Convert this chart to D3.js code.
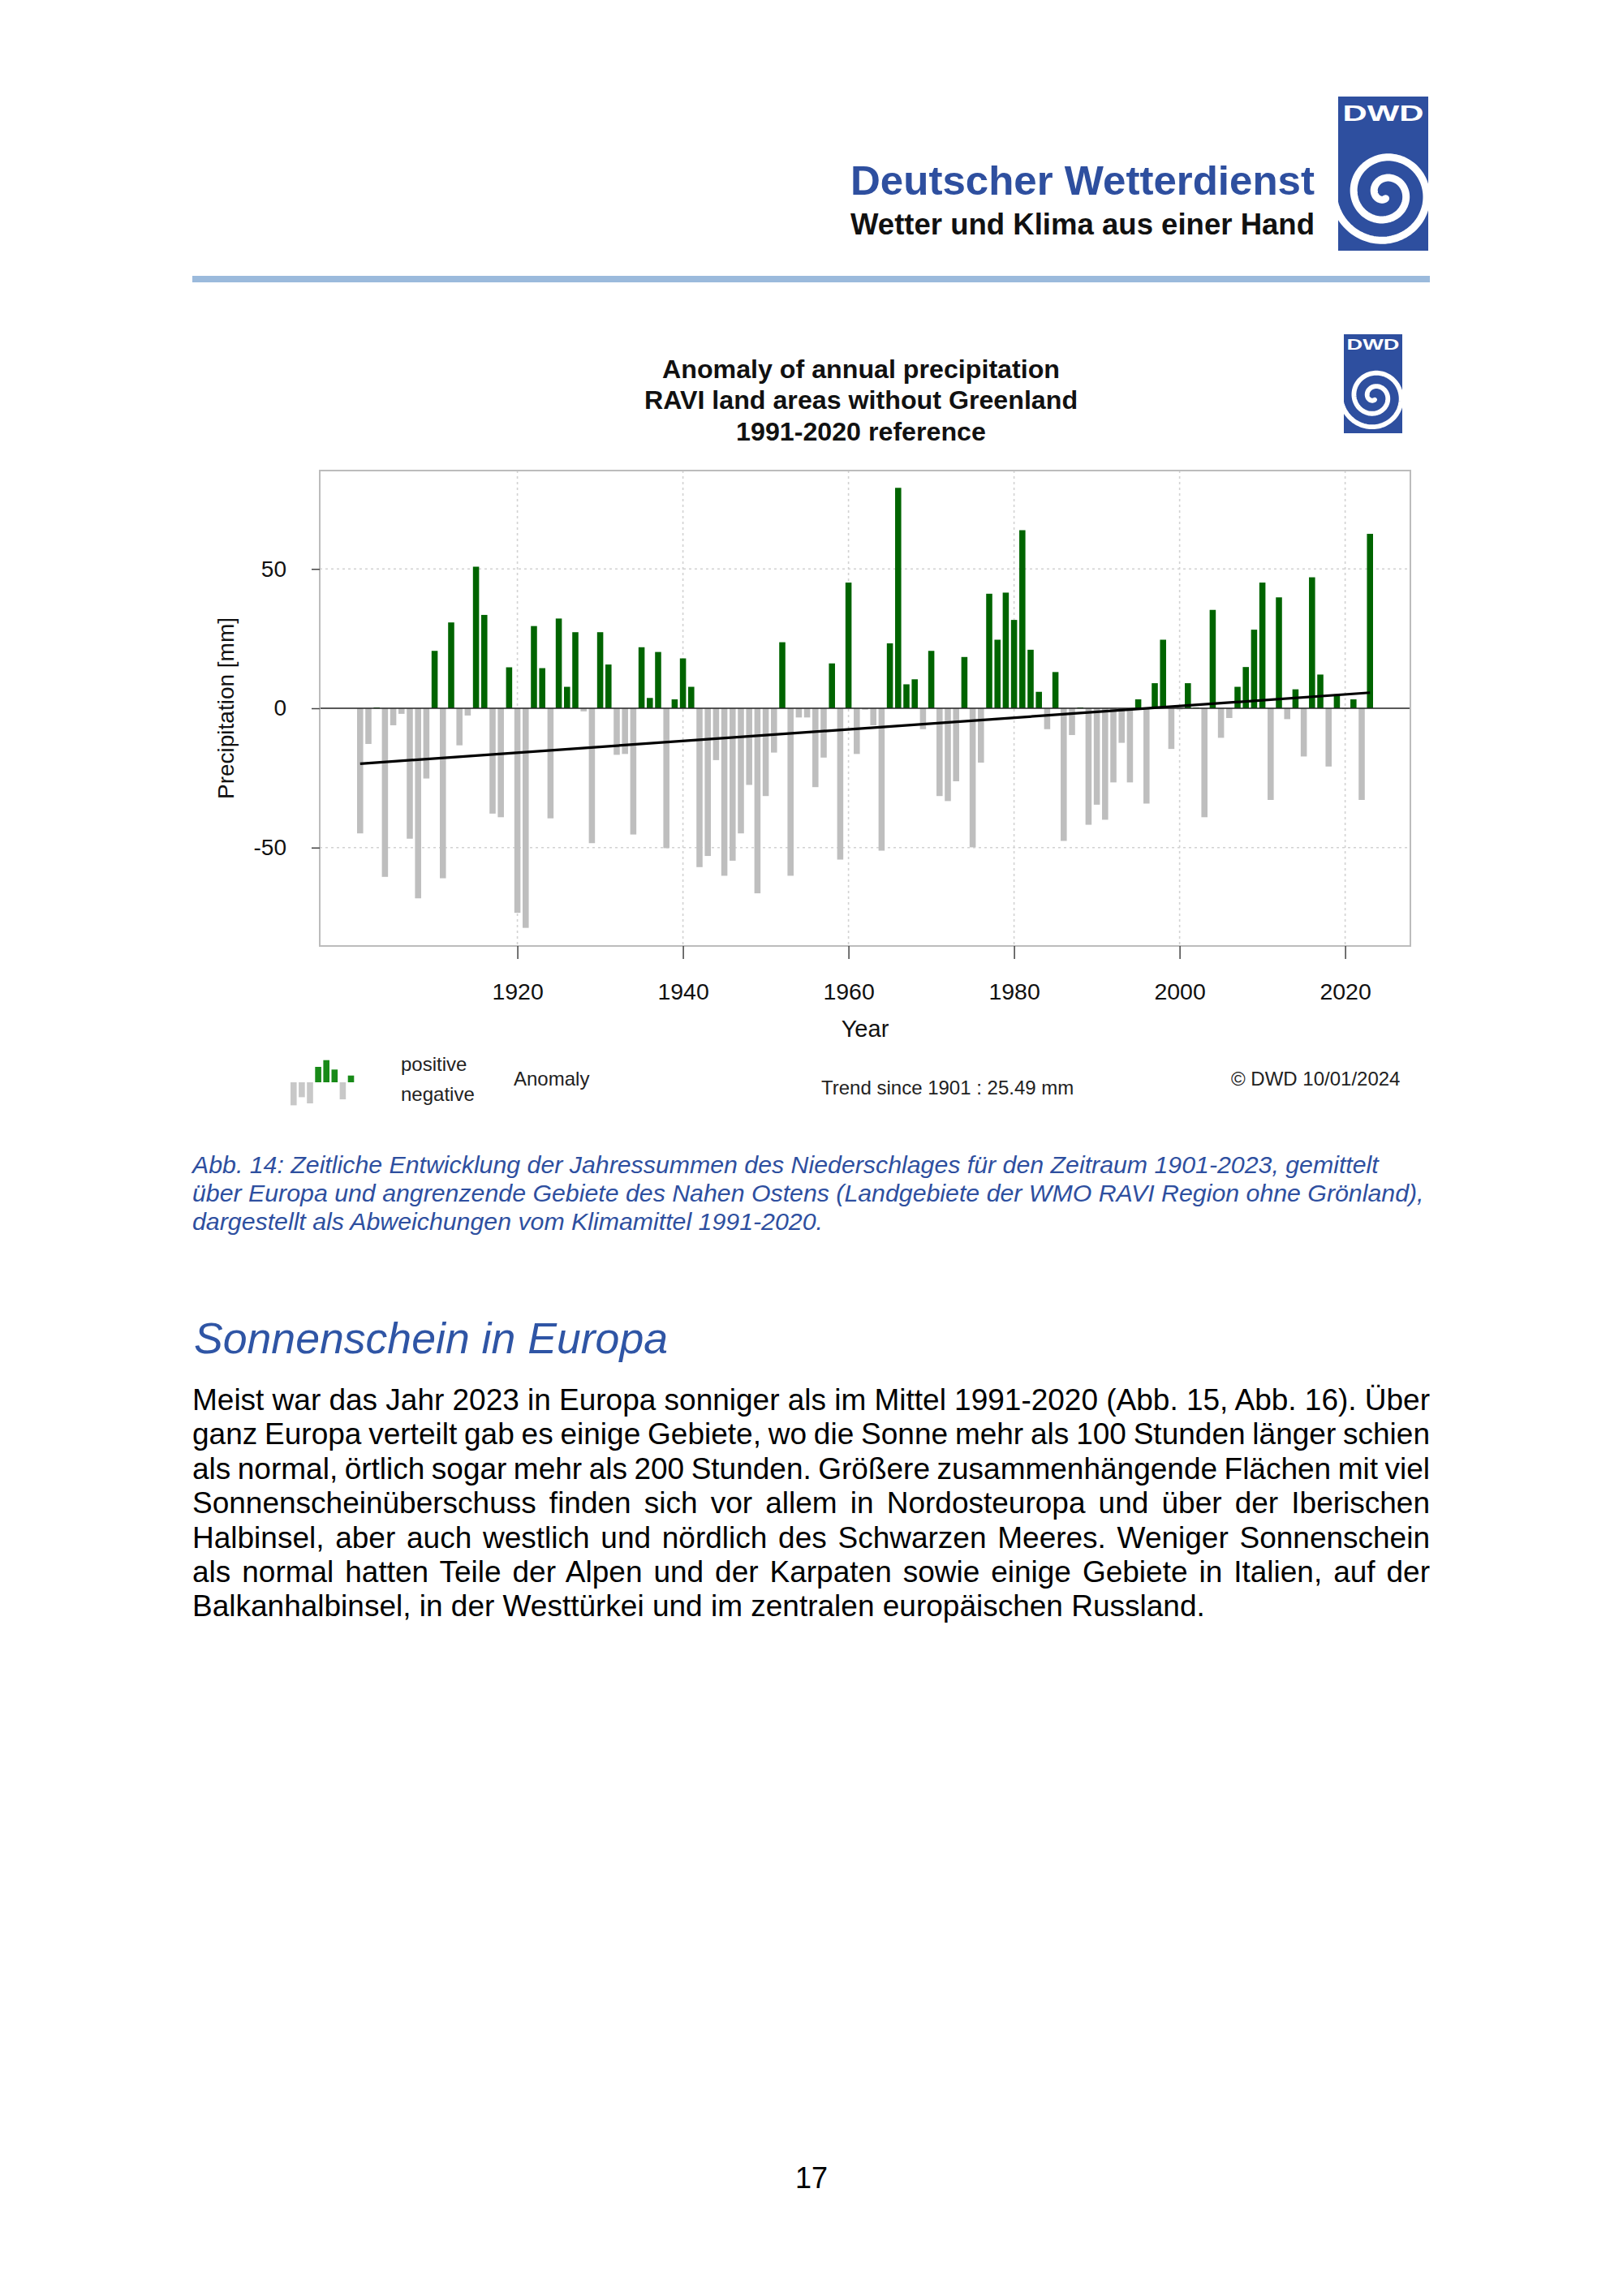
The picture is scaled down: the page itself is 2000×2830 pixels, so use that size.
<!DOCTYPE html>
<html><head><meta charset="utf-8">
<script src="https://cdn.jsdelivr.net/npm/d3@7"></script>
<style>body{margin:0;background:#fff}svg{display:block}</style>
</head><body>
<script>
// ---------------- DATA ----------------
const firstYear = 1901;
const anomalies = [
 -44.9,-12.8,0.3,-60.5,-6.1,-2.0,-46.8,-68.2,-25.2,20.6,      // 1901-1910
 -61.0,30.8,-13.3,-2.6,50.8,33.5,-37.8,-39.1,14.7,-73.4,      // 1911-1920
 -78.8,29.5,14.4,-39.5,32.2,7.7,27.3,-1.1,-48.4,27.3,         // 1921-1930
 15.7,-16.7,-16.4,-45.3,21.9,3.7,20.2,-50.2,3.2,17.9,         // 1931-1940
 7.7,-57.0,-53.0,-18.6,-60.1,-54.7,-44.9,-27.5,-66.4,-31.5,   // 1941-1950
 -15.9,23.7,-60.1,-3.3,-3.3,-28.3,-17.7,16.1,-54.3,45.1,      // 1951-1960
 -16.4,-0.5,-6.1,-51.1,23.3,79.1,8.6,10.4,-7.5,20.6,          // 1961-1970
 -31.5,-33.3,-26.2,18.4,-49.9,-19.5,41.1,24.6,41.5,31.7,      // 1971-1980
 63.9,21.0,5.9,-7.5,13.0,-47.6,-9.6,0.3,-41.8,-34.6,          // 1981-1990
 -40.0,-26.6,-12.4,-26.6,3.2,-34.2,9.0,24.6,-14.6,-0.4,       // 1991-2000
 9.0,0.2,-39.1,35.3,-10.6,-3.5,7.7,14.8,28.2,45.1,            // 2001-2010
 -32.9,39.8,-3.9,6.8,-17.3,47.0,12.1,-20.9,5.0,-0.3,          // 2011-2020
 3.2,-32.9,62.6                                               // 2021-2023
];
const years = anomalies.map((_, i) => firstYear + i);
const yTicks = [-50, 0, 50];
const yGrid = [-50, 50];
const xTicks = [1920, 1940, 1960, 1980, 2000, 2020];
const trendYears = [1901, 2023];
const trendValues = [-19.9, 5.6];
const legendIconValues = [-2.84, -1.84, -2.6, 1.9, 2.73, 1.57, -2.1, 0.83];
const titleLines = ["Anomaly of annual precipitation", "RAVI land areas without Greenland", "1991-2020 reference"];
const legendPos = "positive", legendNeg = "negative", legendLabel = "Anomaly";
const trendText = "Trend since 1901 : 25.49 mm";
const copyrightText = "\u00A9 DWD 10/01/2024";
const yLabel = "Precipitation [mm]", xLabel = "Year";
const headerTitle = "Deutscher Wetterdienst", headerSub = "Wetter und Klima aus einer Hand";
const captionLines = [
 "Abb. 14: Zeitliche Entwicklung der Jahressummen des Niederschlages für den Zeitraum 1901-2023, gemittelt",
 "über Europa und angrenzende Gebiete des Nahen Ostens (Landgebiete der WMO RAVI Region ohne Grönland),",
 "dargestellt als Abweichungen vom Klimamittel 1991-2020."
];
const heading = "Sonnenschein in Europa";
const bodyLines = [
 "Meist war das Jahr 2023 in Europa sonniger als im Mittel 1991-2020 (Abb. 15, Abb. 16). Über",
 "ganz Europa verteilt gab es einige Gebiete, wo die Sonne mehr als 100 Stunden länger schien",
 "als normal, örtlich sogar mehr als 200 Stunden. Größere zusammenhängende Flächen mit viel",
 "Sonnenscheinüberschuss finden sich vor allem in Nordosteuropa und über der Iberischen",
 "Halbinsel, aber auch westlich und nördlich des Schwarzen Meeres. Weniger Sonnenschein",
 "als normal hatten Teile der Alpen und der Karpaten sowie einige Gebiete in Italien, auf der",
 "Balkanhalbinsel, in der Westtürkei und im zentralen europäischen Russland."
];
const pageNumber = "17";

// ---------------- DRAW ----------------
const FONT = "'Liberation Sans', Arial, Helvetica, sans-serif";
const W = 2000, H = 2830;
const BLUE = "#2e4f9f";
const svg = d3.select("body").append("svg").attr("width", W).attr("height", H)
  .style("font-family", FONT);
svg.append("rect").attr("width", W).attr("height", H).attr("fill", "#fff");
const defs = svg.append("defs");

function drawLogo(x0, y0, w, h, id) {
  const g = svg.append("g");
  defs.append("clipPath").attr("id", id).append("rect")
    .attr("x", x0).attr("y", y0).attr("width", w).attr("height", h);
  g.append("rect").attr("x", x0).attr("y", y0).attr("width", w).attr("height", h).attr("fill", BLUE);
  g.append("text").attr("x", x0 + w / 2).attr("y", y0 + h * 0.158)
    .attr("text-anchor", "middle").attr("font-weight", "bold")
    .attr("font-size", h * 0.145).attr("fill", "#fff")
    .attr("textLength", w * 0.9).attr("lengthAdjust", "spacingAndGlyphs").text("DWD");
  const s = w / 111;
  const cx = x0 + w * 0.52, cy = y0 + h * 0.63;
  const T = 13.8, pts = [];
  for (let t = 0; t <= T + 0.8; t += 0.05) {
    const r = (6 + 4.05 * t) * s;
    const phi = 2.67 - T + t;
    pts.push([cx + r * Math.cos(phi), cy + r * Math.sin(phi)]);
  }
  g.append("path").attr("d", d3.line()(pts)).attr("fill", "none")
    .attr("stroke", "#fff").attr("stroke-width", 9 * s).attr("stroke-linecap", "round")
    .attr("clip-path", `url(#${id})`);
}

// Header
svg.append("text").attr("x", 1620).attr("y", 240).attr("text-anchor", "end")
  .attr("font-weight", "bold").attr("font-size", 50).attr("fill", BLUE)
  .attr("textLength", 572).attr("lengthAdjust", "spacingAndGlyphs").text(headerTitle);
svg.append("text").attr("x", 1620).attr("y", 289).attr("text-anchor", "end")
  .attr("font-weight", "bold").attr("font-size", 37).attr("fill", "#111")
  .attr("textLength", 572).attr("lengthAdjust", "spacingAndGlyphs").text(headerSub);
drawLogo(1649, 119, 111, 190, "clipBig");
svg.append("rect").attr("x", 237).attr("y", 340).attr("width", 1525).attr("height", 8).attr("fill", "#9bbadc");

// Chart title
svg.append("g").selectAll("text").data(titleLines).join("text")
  .attr("x", 1061).attr("y", (d, i) => 466 + i * 38.3).attr("text-anchor", "middle")
  .attr("font-weight", "bold").attr("font-size", 32.2).attr("fill", "#111").text(d => d);
drawLogo(1656, 412, 72, 122, "clipSmall");

// Plot
const plot = { left: 394, right: 1738, top: 580, bottom: 1166 };
const x = d3.scaleLinear().domain([1896.12, 2027.88]).range([plot.left, plot.right]);
const y = d3.scaleLinear().domain([-85.3, 85.3]).range([plot.bottom, plot.top]);

const grid = svg.append("g").attr("stroke", "#d2d2d2").attr("stroke-width", 1.6).attr("stroke-dasharray", "3,4");
grid.selectAll(".gx").data(xTicks).join("line")
  .attr("x1", d => x(d)).attr("x2", d => x(d)).attr("y1", plot.top).attr("y2", plot.bottom);
grid.selectAll(".gy").data(yGrid).join("line")
  .attr("x1", plot.left).attr("x2", plot.right).attr("y1", d => y(d)).attr("y2", d => y(d));

const bw = x(1901.37) - x(1900.63);
svg.append("g").selectAll("rect").data(years).join("rect")
  .attr("x", d => x(d) - bw / 2)
  .attr("y", (d, i) => y(Math.max(0, anomalies[i])))
  .attr("width", bw)
  .attr("height", (d, i) => Math.abs(y(anomalies[i]) - y(0)))
  .attr("fill", (d, i) => anomalies[i] >= 0 ? "#006400" : "#bebebe");

svg.append("line").attr("x1", plot.left).attr("x2", plot.right)
  .attr("y1", y(0)).attr("y2", y(0)).attr("stroke", "#222").attr("stroke-width", 1.6);

svg.append("path")
  .attr("d", d3.line().x(d => x(d[0])).y(d => y(d[1]))(trendYears.map((t, i) => [t, trendValues[i]])))
  .attr("fill", "none").attr("stroke", "#000").attr("stroke-width", 3.2);

svg.append("rect").attr("x", plot.left).attr("y", plot.top)
  .attr("width", plot.right - plot.left).attr("height", plot.bottom - plot.top)
  .attr("fill", "none").attr("stroke", "#bcbcbc").attr("stroke-width", 2);

// Axes
const yAxis = svg.append("g").attr("transform", `translate(${plot.left},0)`)
  .call(d3.axisLeft(y).tickValues(yTicks).tickSize(10).tickPadding(31).tickFormat(d => String(d)));
yAxis.select(".domain").remove();
yAxis.selectAll(".tick line").attr("stroke", "#444").attr("stroke-width", 1.5);
yAxis.selectAll(".tick text").attr("font-size", 28).attr("font-family", FONT).attr("fill", "#111");

const xAxis = svg.append("g").attr("transform", `translate(0,${plot.bottom})`)
  .call(d3.axisBottom(x).tickValues(xTicks).tickSize(16).tickFormat(d => String(d)));
xAxis.select(".domain").remove();
xAxis.selectAll(".tick line").attr("stroke", "#444").attr("stroke-width", 1.5);
xAxis.selectAll(".tick text").attr("font-size", 28.5).attr("font-family", FONT).attr("fill", "#111")
  .attr("y", 66).attr("dy", 0);

svg.append("text").attr("transform", "translate(288,873) rotate(-90)").attr("text-anchor", "middle")
  .attr("font-size", 28).attr("fill", "#111").text(yLabel);
svg.append("text").attr("x", 1066).attr("y", 1278).attr("text-anchor", "middle")
  .attr("font-size", 29).attr("fill", "#111").text(xLabel);

// Legend
const iconY = d3.scaleLinear().domain([0, 1]).range([1334, 1324]);
svg.append("g").selectAll("rect").data(legendIconValues).join("rect")
  .attr("x", (d, i) => 358 + i * 10.1).attr("width", 7.6)
  .attr("y", d => iconY(Math.max(0, d))).attr("height", d => Math.abs(iconY(d) - iconY(0)))
  .attr("fill", d => d >= 0 ? "#188a18" : "#c8c8c8");
const legText = [
  { t: legendPos, x: 494, y: 1320 },
  { t: legendNeg, x: 494, y: 1357 },
  { t: legendLabel, x: 633, y: 1338 },
  { t: trendText, x: 1012, y: 1349 },
  { t: copyrightText, x: 1517, y: 1338 }
];
svg.append("g").selectAll("text").data(legText).join("text")
  .attr("x", d => d.x).attr("y", d => d.y).attr("font-size", 24).attr("fill", "#222").text(d => d.t);

// Caption
svg.append("g").selectAll("text").data(captionLines).join("text")
  .attr("x", 237).attr("y", (d, i) => 1446 + i * 35).attr("font-size", 30.3).attr("font-style", "italic")
  .attr("fill", BLUE).text(d => d);

// Heading
svg.append("text").attr("x", 239).attr("y", 1668).attr("font-size", 53.6).attr("font-style", "italic")
  .attr("fill", "#2f55a5").text(heading);

// Body (justified)
const bodyG = svg.append("g");
bodyLines.forEach((line, i) => {
  const t = bodyG.append("text").attr("x", 237).attr("y", 1738 + i * 42.4)
    .attr("font-size", 37).attr("fill", "#000").text(line);
  if (i < bodyLines.length - 1) {
    const nat = t.node().getComputedTextLength();
    const spaces = (line.match(/ /g) || []).length;
    if (spaces > 0) t.style("word-spacing", ((1525 - nat) / spaces) + "px");
  }
});

svg.append("text").attr("x", 1000).attr("y", 2697).attr("text-anchor", "middle")
  .attr("font-size", 36).attr("fill", "#000").text(pageNumber);
</script>
</body></html>
